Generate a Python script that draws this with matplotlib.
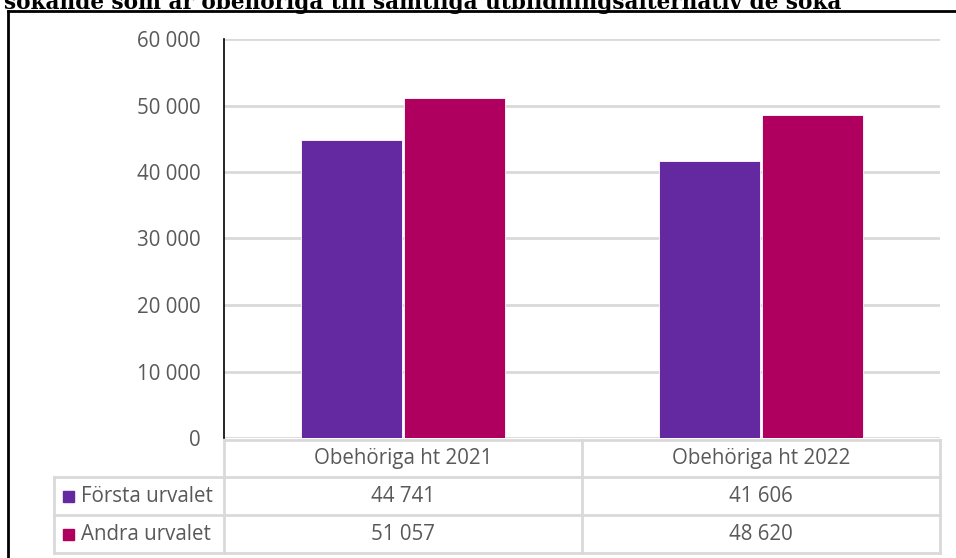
import numpy as np
import matplotlib.pyplot as plt

plt.rcParams['font.family'] = ['Open Sans', 'DejaVu Sans']

kategorier = ['Obehöriga ht 2021', 'Obehöriga ht 2022']
serier = ['Första urvalet', 'Andra urvalet']
forsta = [44741, 41606]
andra = [51057, 48620]
yticks = [0, 10000, 20000, 30000, 40000, 50000, 60000]
farger = ['#6428A0', '#B0005F']
titel = 'sökande som är obehöriga till samtliga utbildningsalternativ de söka'

W, H = 956, 558
fig = plt.figure(figsize=(W/100, H/100), dpi=100)

def fx(px):
    return px / W

def fy(py):
    return 1 - py / H

# titel, delvis avklippt upptill som i originalet
fig.text(fx(4), fy(9), titel, family='DejaVu Serif', fontweight='bold',
         fontsize=15.6, va='baseline', ha='left', color='black')

# yttre ram
fig.add_artist(plt.Line2D([fx(8), fx(8)], [fy(11), 0], color='black', lw=2))
fig.add_artist(plt.Line2D([fx(8), 1], [fy(11), fy(11)], color='black', lw=2))

fs = 14.8
x0, x1, ytop, ybot = 224, 940, 39, 438
ax = fig.add_axes([fx(x0), fy(ybot), fx(x1) - fx(x0), fy(ytop) - fy(ybot)])
x = np.arange(len(kategorier))
bw = 0.283
ax.bar(x - bw/2 - 0.003, forsta, bw, color=farger[0], edgecolor='white', lw=0.6, zorder=3)
ax.bar(x + bw/2 + 0.003, andra, bw, color=farger[1], edgecolor='white', lw=0.6, zorder=3)
ax.set_xlim(-0.5, 1.5)
ax.set_ylim(0, 60000)
ax.set_yticks(yticks)
ax.set_yticklabels([f'{v:,}'.replace(',', ' ') for v in yticks], fontsize=fs, color='#595959')
ax.tick_params(axis='y', length=0, pad=17)
ax.set_xticks([])
ax.grid(axis='y', color='#D9D9D9', lw=2, zorder=0)
for s in ['top', 'right', 'bottom']:
    ax.spines[s].set_visible(False)
ax.spines['left'].set_color('black')
ax.spines['left'].set_linewidth(1.2)

# datatabell
grid = '#D9D9D9'
rows = [440, 477, 515, 553]
cols = [54, 224, 582, 940]
def hl(py, xa, xb):
    fig.add_artist(plt.Line2D([fx(xa), fx(xb)], [fy(py), fy(py)], color=grid, lw=2))
def vl(px, ya, yb):
    fig.add_artist(plt.Line2D([fx(px), fx(px)], [fy(ya), fy(yb)], color=grid, lw=2))

hl(rows[0], cols[1], cols[3])
for r in rows[1:]:
    hl(r, cols[0], cols[3])
vl(cols[0], rows[1], rows[3])
for c in cols[1:]:
    vl(c, rows[0], rows[3])

for i, kat in enumerate(kategorier):
    cx = (cols[i+1] + cols[i+2]) / 2
    fig.text(fx(cx), fy((rows[0] + rows[1]) / 2), kat, ha='center', va='center',
             fontsize=fs, color='#595959')
    for j, vals in enumerate([forsta, andra]):
        fig.text(fx(cx), fy((rows[j+1] + rows[j+2]) / 2), f'{vals[i]:,}'.replace(',', ' '),
                 ha='center', va='center', fontsize=fs, color='#595959')

for j, namn in enumerate(serier):
    cy = (rows[j+1] + rows[j+2]) / 2
    fig.add_artist(plt.Rectangle((fx(63), fy(cy + 5.5)), fx(11), 11/H, color=farger[j]))
    fig.text(fx(81), fy(cy), namn, ha='left', va='center', fontsize=fs, color='#595959')

fig.savefig('out.png', dpi=100)
